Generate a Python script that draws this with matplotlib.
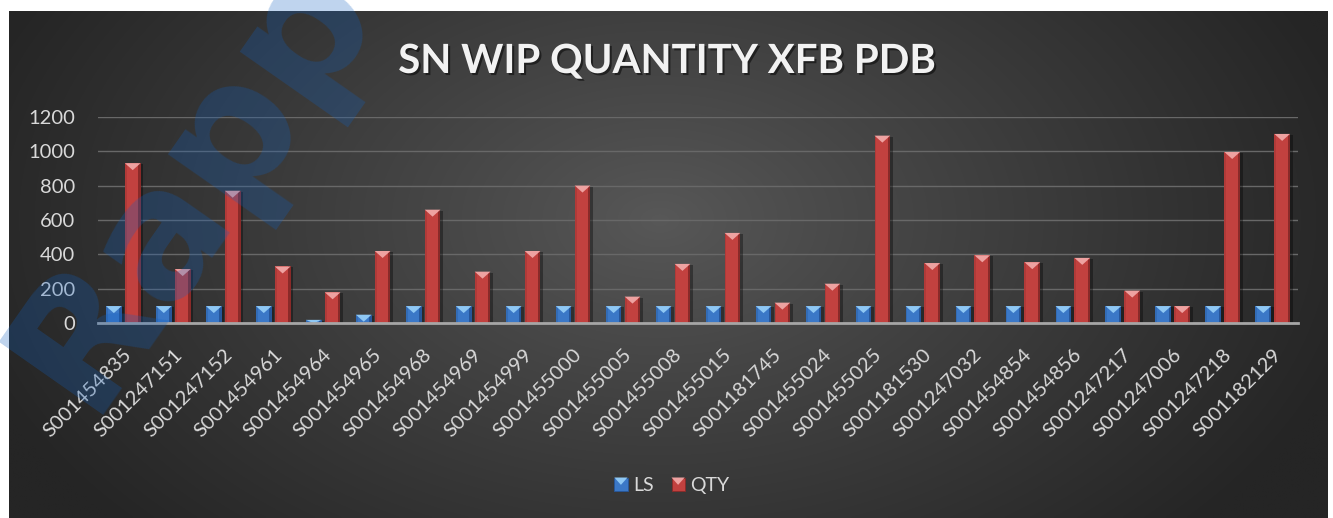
import numpy as np
import matplotlib
matplotlib.use('Agg')
import matplotlib.pyplot as plt
from matplotlib.patches import Rectangle, Polygon, Patch
from matplotlib.legend_handler import HandlerBase
import matplotlib.transforms as mtransforms
import matplotlib.patheffects as pe

# ---------------- data ----------------
categories = ['S001454835', 'S001247151', 'S001247152', 'S001454961', 'S001454964',
              'S001454965', 'S001454968', 'S001454969', 'S001454999', 'S001455000',
              'S001455005', 'S001455008', 'S001455015', 'S001181745', 'S001455024',
              'S001455025', 'S001181530', 'S001247032', 'S001454854', 'S001454856',
              'S001247217', 'S001247006', 'S001247218', 'S001182129']
ls_values = [100, 100, 100, 100, 20, 50, 100, 100, 100, 100, 100, 100,
             100, 100, 100, 100, 100, 100, 100, 100, 100, 100, 100, 100]
qty_values = [930, 315, 770, 330, 180, 420, 660, 300, 420, 800, 155, 345,
              525, 120, 230, 1090, 350, 395, 355, 380, 190, 100, 995, 1100]
series_names = ['LS', 'QTY']
y_ticks = [0, 200, 400, 600, 800, 1000, 1200]
title_text = 'SN WIP QUANTITY XFB PDB'
watermark_text = 'Rapp'

# ---------------- figure ----------------
W, H = 1333, 518
fig = plt.figure(figsize=(W / 100, H / 100), dpi=100, facecolor='white')

# dark radial-gradient chart area
bx0, by0, bx1, by1 = 9, 11, 1328, 518
bg = fig.add_axes([bx0 / W, 1 - by1 / H, (bx1 - bx0) / W, (by1 - by0) / H])
bg.set_axis_off()
ny, nx = 200, 500
yy, xx = np.mgrid[0:ny, 0:nx]
px = bx0 + xx / (nx - 1) * (bx1 - bx0)
py = by0 + yy / (ny - 1) * (by1 - by0)
t = np.sqrt(((px - 660) / 720) ** 2 + ((py - 220) / 460) ** 2)
t = np.clip(t, 0, 1) ** 0.9
c0 = np.array([0x58, 0x58, 0x58]) / 255
c1 = np.array([0x25, 0x25, 0x25]) / 255
img = c0 + (c1 - c0) * t[..., None]
bg.imshow(img, aspect='auto', origin='upper', interpolation='bilinear')

# plot area
ax_l, ax_r, ax_t, ax_b = 98.3, 1297.7, 116.7, 323.3
ax = fig.add_axes([ax_l / W, 1 - ax_b / H, (ax_r - ax_l) / W, (ax_b - ax_t) / H])
ax.patch.set_alpha(0)
n = len(categories)
x = np.arange(n)
ax.set_xlim(-0.5, n - 0.5)
ax.set_ylim(0, 1200)

units_per_px = 1200 / (ax_b - ax_t)
bw = 0.314
off = 0.189

shadow_tr = mtransforms.offset_copy(ax.transData, fig=fig, x=2.5, y=-1.0, units='dots')
for vals, dx in ((ls_values, -off), (qty_values, off)):
    ax.bar(x + dx, vals, bw, color='black', alpha=0.35, transform=shadow_tr, zorder=2, lw=0)

styles = [
    dict(face='#3b78c7', left='#336cb6', right='#27569a', tri='#8fc8f4'),
    dict(face='#c2413f', left='#b13a38', right='#8a2a29', tri='#eea2a1'),
]
tri_units = 7 * units_per_px
for vals, dx, st in ((ls_values, -off, styles[0]), (qty_values, off, styles[1])):
    bars = ax.bar(x + dx, vals, bw, color=st['face'], zorder=3, lw=0)
    for b in bars:
        x0 = b.get_x()
        w = b.get_width()
        h = b.get_height()
        ax.add_patch(Rectangle((x0, 0), w * 0.12, h, facecolor=st['left'], lw=0, zorder=3.1))
        ax.add_patch(Rectangle((x0 + w * 0.85, 0), w * 0.15, h, facecolor=st['right'], lw=0, zorder=3.1))
        th = min(tri_units, h)
        ax.add_patch(Polygon([(x0, h), (x0 + w, h), (x0 + w / 2, h - th)],
                             closed=True, facecolor=st['tri'], lw=0, zorder=3.2))

# grid & axes
ax.set_yticks(y_ticks)
ax.yaxis.grid(True, color='#686868', lw=1.0)
ax.set_axisbelow(True)
for s in ('left', 'right', 'top'):
    ax.spines[s].set_visible(False)
ax.spines['bottom'].set_color('#a6a6a6')
ax.spines['bottom'].set_linewidth(2.0)
ax.spines['bottom'].set_zorder(4)

ax.tick_params(axis='y', length=0, pad=16.5, labelsize=14.5, labelcolor='#d9d9d9')
ax.tick_params(axis='x', length=0, pad=16, labelsize=14.5, labelcolor='#d9d9d9')
for lab in ax.get_yticklabels():
    lab.set_fontfamily('Lato')
ax.set_xticks(x)
ax.set_xticklabels(categories, rotation=45, ha='right', va='top',
                   rotation_mode='anchor', fontfamily='Lato')

# legend with bevelled squares
class BevelHandler(HandlerBase):
    def __init__(self, face, dark, light):
        super().__init__()
        self.face, self.dark, self.light = face, dark, light

    def create_artists(self, legend, orig_handle, xdescent, ydescent, width, height, fontsize, trans):
        x0, y0 = -xdescent, -ydescent
        rect = Rectangle((x0, y0), width, height, facecolor=self.face,
                         edgecolor=self.dark, lw=0.6, transform=trans)
        tri = Polygon([(x0, y0 + height), (x0 + width, y0 + height), (x0 + width / 2, y0 + height * 0.45)],
                      closed=True, facecolor=self.light, lw=0, transform=trans)
        return [rect, tri]

h1 = Patch(facecolor=styles[0]['face'])
h2 = Patch(facecolor=styles[1]['face'])
leg = fig.legend([h1, h2], series_names, loc='center', bbox_to_anchor=(672 / W, 1 - 485.5 / H),
                 ncol=2, frameon=False, prop={'family': 'Lato', 'size': 14},
                 labelcolor='#d9d9d9', handlelength=0.68, handleheight=0.68,
                 handletextpad=0.3, columnspacing=0.9,
                 handler_map={h1: BevelHandler(styles[0]['face'], '#27569a', styles[0]['tri']),
                              h2: BevelHandler(styles[1]['face'], '#8a2a29', styles[1]['tri'])})

# title
fig.text(667 / W, 1 - 73 / H, title_text, ha='center', va='baseline', fontsize=29,
         fontweight='bold', fontfamily='Lato', color='#f2f2f2',
         path_effects=[pe.withSimplePatchShadow(offset=(1.5, -1.5), shadow_rgbFace='black', alpha=0.5)])

# watermark
fig.text(232 / W, 1 - 208 / H, watermark_text, rotation=55, rotation_mode='anchor',
         ha='center', va='baseline', fontsize=126, fontweight='bold',
         fontfamily='DejaVu Sans', color='#1060c0', alpha=0.27, zorder=10)

fig.savefig('out.png', dpi=100, facecolor='white')
